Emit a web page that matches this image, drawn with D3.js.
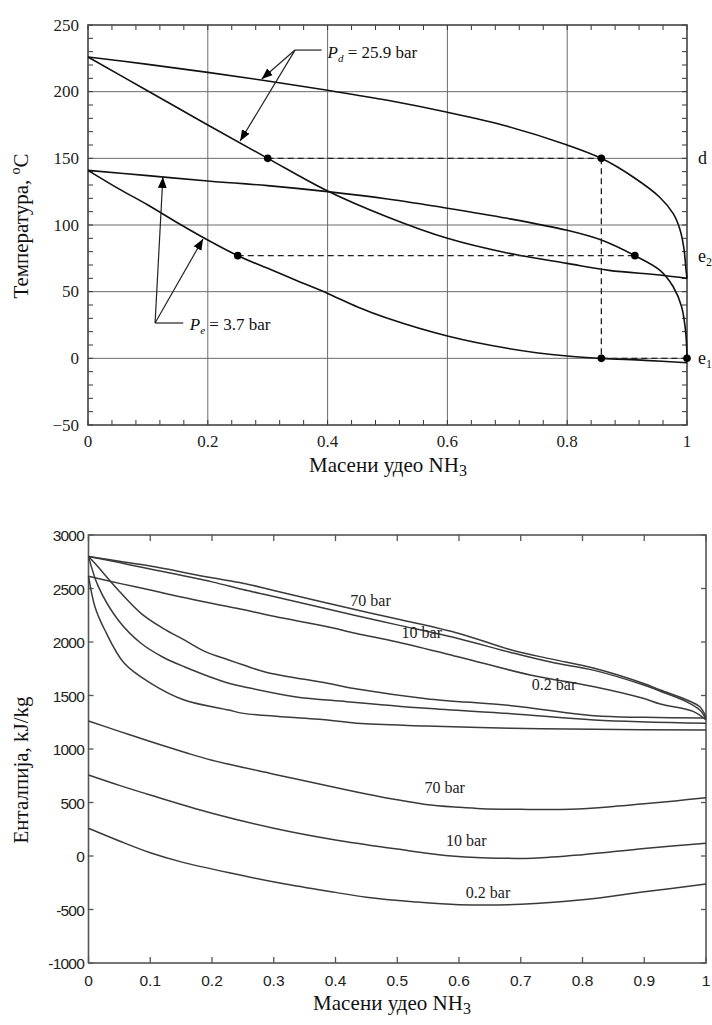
<!DOCTYPE html>
<html><head><meta charset="utf-8">
<script src="https://cdn.jsdelivr.net/npm/d3@7"></script>
<style>
body{margin:0;background:#fff;}
svg{display:block;}
</style></head>
<body>
<svg id="c" width="712" height="1025"></svg>
<script>
const SERIF = "'Liberation Serif', 'Times New Roman', 'DejaVu Serif', serif";
const SANS = "'Liberation Sans', Arial, sans-serif";
// ---------- TOP CHART DATA (x = mass fraction NH3, T in °C) ----------
const topXTicks = [0, 0.2, 0.4, 0.6, 0.8, 1];
const topXTickLabels = ["0", "0.2", "0.4", "0.6", "0.8", "1"];
const topYTicks = [-50, 0, 50, 100, 150, 200, 250];
const topYTickLabels = ["\u221250", "0", "50", "100", "150", "200", "250"];

const pdDew = [[0,226],[0.1,220.5],[0.2,214.5],[0.3,208],[0.4,201],[0.5,193.5],[0.6,184.5],[0.7,174],[0.8,160],[0.857,150],[0.91,136],[0.954,121],[0.977,108.5],[0.988,97],[0.995,82],[0.998,68],[1,60]];
const pdBubble = [[0,226],[0.1,200.5],[0.2,175],[0.3,150],[0.4,125.5],[0.5,106],[0.6,90],[0.7,79],[0.8,71.2],[0.87,66],[0.955,62.5],[1,60]];
const peDew = [[0,141],[0.1,137],[0.2,133],[0.3,129.5],[0.4,125],[0.5,119.5],[0.6,112.6],[0.7,105],[0.8,96],[0.857,88.7],[0.913,77],[0.955,66],[0.977,53.7],[0.991,38.7],[0.998,18.7],[1,0]];
const peBubble = [[0,141],[0.05,127.5],[0.1,115],[0.15,101.5],[0.2,88.7],[0.25,77],[0.3,67.5],[0.35,58],[0.4,48.7],[0.45,38.5],[0.5,30],[0.6,16.7],[0.7,7.5],[0.8,1.7],[0.857,0],[0.93,-1.5],[1,-3.3]];

const statePoints = [[0.3,150],[0.857,150],[0.25,77],[0.913,77],[0.857,0],[1,0]];
const dashedLines = [
  [[0.3,150],[0.857,150]],
  [[0.857,150],[0.857,0]],
  [[0.25,77],[0.913,77]],
  [[0.857,0],[1,0]]
];
const sideLabels = [{t:"d", T:150, sub:""},{t:"e", T:77, sub:"2"},{t:"e", T:0, sub:"1"}];
const pdLabel = {x:0.4, T:225, sub:"d", rest:" = 25.9 bar", vertex:[0.3456,231.2], leaderEnd:[0.39,231.2], tips:[[0.29,209.5],[0.254,163]]};
const peLabel = {x:0.17, T:21, sub:"e", rest:" = 3.7 bar", vertex:[0.112,26.5], leaderEnd:[0.159,26.5], tips:[[0.125,136],[0.192,89.5]]};

// ---------- BOTTOM CHART DATA (x = mass fraction NH3, h in kJ/kg) ----------
const botXTicks = [0,0.1,0.2,0.3,0.4,0.5,0.6,0.7,0.8,0.9,1];
const botXTickLabels = ["0","0.1","0.2","0.3","0.4","0.5","0.6","0.7","0.8","0.9","1"];
const botYTicks = [-1000,-500,0,500,1000,1500,2000,2500,3000];
const botYTickLabels = ["-1000","-500","0","500","1000","1500","2000","2500","3000"];

const vap70 = [[0,2800],[0.05,2755],[0.1,2710],[0.2,2600],[0.25,2550],[0.3,2482],[0.4,2345],[0.5,2215],[0.6,2080],[0.685,1925],[0.75,1840],[0.819,1754],[0.898,1614],[0.926,1551],[0.969,1458],[0.99,1395],[1,1300]];
const vap10 = [[0,2800],[0.05,2742],[0.1,2682],[0.2,2562],[0.25,2490],[0.3,2425],[0.434,2245],[0.5,2160],[0.6,2030],[0.685,1900],[0.75,1810],[0.819,1735],[0.898,1600],[0.926,1540],[0.969,1440],[0.99,1365],[1,1280]];
const vap02 = [[0,2615],[0.05,2548],[0.1,2486],[0.15,2420],[0.24,2315],[0.3,2240],[0.387,2143],[0.434,2080],[0.5,2000],[0.6,1860],[0.717,1690],[0.819,1582],[0.898,1474],[0.926,1420],[0.98,1349],[1,1271]];
const aux1 = [[0,2800],[0.0104,2735],[0.048,2486],[0.085,2268],[0.12,2130],[0.155,2019],[0.189,1910],[0.227,1832],[0.251,1785],[0.286,1720],[0.387,1614],[0.435,1560],[0.547,1470],[0.685,1405],[0.819,1310],[0.9,1296],[1,1290]];
const aux2 = [[0,2800],[0.016,2517],[0.048,2206],[0.085,1988],[0.12,1860],[0.155,1769],[0.227,1614],[0.251,1582],[0.334,1489],[0.4185,1442],[0.547,1380],[0.685,1330],[0.819,1271],[1,1240]];
const aux3 = [[0,2615],[0.0104,2330],[0.0264,2112],[0.058,1801],[0.101,1614],[0.155,1458],[0.227,1364],[0.251,1333],[0.387,1271],[0.435,1240],[0.547,1215],[0.685,1193],[0.819,1184],[1,1178]];
const liq70 = [[0,1262],[0.05,1165],[0.1,1070],[0.158,965],[0.2,895],[0.3,765],[0.4,640],[0.45,580],[0.5,525],[0.546,482],[0.6,455],[0.637,442],[0.7,436],[0.78,437],[0.85,462],[0.9,488],[0.95,515],[1,545]];
const liq10 = [[0,757],[0.05,660],[0.1,570],[0.2,400],[0.3,260],[0.4,150],[0.5,65],[0.578,5],[0.647,-18],[0.72,-20],[0.8,12],[0.9,70],[1,120]];
const liq02 = [[0,259],[0.05,140],[0.1,30],[0.15,-55],[0.232,-162],[0.312,-255],[0.4,-340],[0.45,-385],[0.525,-427],[0.6,-455],[0.7,-452],[0.8,-410],[0.9,-335],[1,-262]];

const botSeries = [vap70, vap10, vap02, aux1, aux2, aux3, liq70, liq10, liq02];
const botLabels = [
  {t:"70 bar", x:0.424, h:2336},
  {t:"10 bar", x:0.507, h:2037},
  {t:"0.2 bar", x:0.718, h:1551},
  {t:"70 bar", x:0.544, h:589},
  {t:"10 bar", x:0.579, h:93},
  {t:"0.2 bar", x:0.611, h:-393}
];

const svg = d3.select("#c");

// ================= TOP CHART =================
const tx = d3.scaleLinear().domain([0,1]).range([88,687]);
const ty = d3.scaleLinear().domain([-50,250]).range([425,25]);
const gT = svg.append("g");

gT.selectAll(".gx").data(topXTicks.slice(1,-1)).enter().append("line")
  .attr("x1",d=>tx(d)).attr("x2",d=>tx(d)).attr("y1",ty(250)).attr("y2",ty(-50))
  .attr("stroke","#6b6b6b").attr("stroke-width",1);
gT.selectAll(".gy").data(topYTicks.slice(1,-1)).enter().append("line")
  .attr("y1",d=>ty(d)).attr("y2",d=>ty(d)).attr("x1",tx(0)).attr("x2",tx(1))
  .attr("stroke","#6b6b6b").attr("stroke-width",1);

const tMinorX = d3.range(0,1.0001,0.04);
const tMinorY = d3.range(-50,250.1,10);
tMinorX.forEach(v=>{
  gT.append("line").attr("x1",tx(v)).attr("x2",tx(v)).attr("y1",ty(-50)).attr("y2",ty(-50)-5).attr("stroke","#333").attr("stroke-width",1);
  gT.append("line").attr("x1",tx(v)).attr("x2",tx(v)).attr("y1",ty(250)).attr("y2",ty(250)+5).attr("stroke","#333").attr("stroke-width",1);
});
tMinorY.forEach(v=>{
  gT.append("line").attr("y1",ty(v)).attr("y2",ty(v)).attr("x1",tx(0)).attr("x2",tx(0)+5).attr("stroke","#333").attr("stroke-width",1);
  gT.append("line").attr("y1",ty(v)).attr("y2",ty(v)).attr("x1",tx(1)).attr("x2",tx(1)-5).attr("stroke","#333").attr("stroke-width",1);
});

gT.append("rect").attr("x",tx(0)).attr("y",ty(250)).attr("width",tx(1)-tx(0)).attr("height",ty(-50)-ty(250))
  .attr("fill","none").attr("stroke","#444").attr("stroke-width",1.6);

gT.selectAll(".xl").data(topXTicks).enter().append("text").attr("font-family",SERIF)
  .attr("x",d=>tx(d)).attr("y",447).attr("text-anchor","middle").attr("font-size",17).attr("fill","#222")
  .text((d,i)=>topXTickLabels[i]);
gT.selectAll(".yl").data(topYTicks).enter().append("text").attr("font-family",SERIF)
  .attr("x",79).attr("y",d=>ty(d)+5.5).attr("text-anchor","end").attr("font-size",17).attr("fill","#222")
  .text((d,i)=>topYTickLabels[i]);

const yt = gT.append("text").attr("font-family",SERIF).attr("font-size",21).attr("fill","#111")
  .attr("text-anchor","middle").attr("transform","translate(28,226) rotate(-90)");
yt.append("tspan").text("Температура, ");
yt.append("tspan").attr("font-size",14).attr("dy",-8).text("o");
yt.append("tspan").attr("dy",8).text("C");
const xt = gT.append("text").attr("font-family",SERIF).attr("font-size",21).attr("fill","#111")
  .attr("text-anchor","middle").attr("x",388).attr("y",472);
xt.append("tspan").text("Масени удео NH");
xt.append("tspan").attr("font-size",16).attr("dy",4).text("3");

const tLine = d3.line().x(d=>tx(d[0])).y(d=>ty(d[1])).curve(d3.curveCatmullRom.alpha(0.5));
[pdDew, pdBubble, peDew, peBubble].forEach(s=>{
  gT.append("path").attr("d",tLine(s)).attr("fill","none").attr("stroke","#111").attr("stroke-width",1.6);
});

dashedLines.forEach(s=>{
  gT.append("path").attr("d",d3.line().x(d=>tx(d[0])).y(d=>ty(d[1]))(s))
    .attr("fill","none").attr("stroke","#222").attr("stroke-width",1.3).attr("stroke-dasharray","6,4");
});

gT.selectAll(".pt").data(statePoints).enter().append("circle")
  .attr("cx",d=>tx(d[0])).attr("cy",d=>ty(d[1])).attr("r",3.8).attr("fill","#000");

sideLabels.forEach(l=>{
  const t = gT.append("text").attr("font-family",SERIF).attr("font-size",18).attr("fill","#111")
    .attr("x",tx(1)+11).attr("y",ty(l.T)+6);
  t.append("tspan").text(l.t);
  if(l.sub) t.append("tspan").attr("font-size",12).attr("dy",4).text(l.sub);
});

const defs = svg.append("defs");
defs.append("marker").attr("id","arr").attr("viewBox","0 0 10 10").attr("refX",10).attr("refY",5)
  .attr("markerWidth",11).attr("markerHeight",11).attr("markerUnits","userSpaceOnUse").attr("orient","auto")
  .append("path").attr("d","M0,1 L10,5 L0,9 Z").attr("fill","#000");
[pdLabel, peLabel].forEach(a=>{
  gT.append("line").attr("x1",tx(a.vertex[0])).attr("y1",ty(a.vertex[1])).attr("x2",tx(a.leaderEnd[0])).attr("y2",ty(a.leaderEnd[1]))
    .attr("stroke","#222").attr("stroke-width",1.2);
  a.tips.forEach(tp=>{
    gT.append("line").attr("x1",tx(a.vertex[0])).attr("y1",ty(a.vertex[1])).attr("x2",tx(tp[0])).attr("y2",ty(tp[1]))
      .attr("stroke","#222").attr("stroke-width",1.2).attr("marker-end","url(#arr)");
  });
  const t = gT.append("text").attr("font-family",SERIF).attr("font-size",17).attr("fill","#111")
    .attr("x",tx(a.x)).attr("y",ty(a.T));
  t.append("tspan").attr("font-style","italic").text("P");
  t.append("tspan").attr("font-style","italic").attr("font-size",11).attr("dy",4).text(a.sub);
  t.append("tspan").attr("dy",-4).text(a.rest);
});

// ================= BOTTOM CHART =================
const bx = d3.scaleLinear().domain([0,1]).range([88.5,706]);
const by = d3.scaleLinear().domain([-1000,3000]).range([963,535]);
const gB = svg.append("g");

gB.append("rect").attr("x",bx(0)).attr("y",by(3000)).attr("width",bx(1)-bx(0)).attr("height",by(-1000)-by(3000))
  .attr("fill","none").attr("stroke","#555").attr("stroke-width",1.6);
botXTicks.forEach(v=>{
  gB.append("line").attr("x1",bx(v)).attr("x2",bx(v)).attr("y1",by(-1000)).attr("y2",by(-1000)-6).attr("stroke","#555").attr("stroke-width",1.3);
  gB.append("line").attr("x1",bx(v)).attr("x2",bx(v)).attr("y1",by(3000)).attr("y2",by(3000)+6).attr("stroke","#555").attr("stroke-width",1.3);
});
botYTicks.forEach(v=>{
  gB.append("line").attr("y1",by(v)).attr("y2",by(v)).attr("x1",bx(0)).attr("x2",bx(0)+5).attr("stroke","#555").attr("stroke-width",1.3);
  gB.append("line").attr("y1",by(v)).attr("y2",by(v)).attr("x1",bx(1)).attr("x2",bx(1)-5).attr("stroke","#555").attr("stroke-width",1.3);
});
gB.selectAll(".bxl").data(botXTicks).enter().append("text").attr("font-family",SANS)
  .attr("x",d=>bx(d)).attr("y",986).attr("text-anchor","middle").attr("font-size",15.5).attr("fill","#222")
  .text((d,i)=>botXTickLabels[i]);
gB.selectAll(".byl").data(botYTicks).enter().append("text").attr("font-family",SANS)
  .attr("x",84).attr("y",d=>by(d)+6).attr("text-anchor","end").attr("font-size",15.5).attr("fill","#222")
  .attr("letter-spacing",-0.8)
  .text((d,i)=>botYTickLabels[i]);

gB.append("text").attr("font-family",SERIF).attr("font-size",21).attr("fill","#111")
  .attr("text-anchor","middle").attr("transform","translate(28,770) rotate(-90)").text("Енталпија, kJ/kg");
const bxt = gB.append("text").attr("font-family",SERIF).attr("font-size",21).attr("fill","#111")
  .attr("text-anchor","middle").attr("x",392).attr("y",1010);
bxt.append("tspan").text("Масени удео NH");
bxt.append("tspan").attr("font-size",16).attr("dy",4).text("3");

const bLine = d3.line().x(d=>bx(d[0])).y(d=>by(d[1])).curve(d3.curveCatmullRom.alpha(0.5));
botSeries.forEach(s=>{
  gB.append("path").attr("d",bLine(s)).attr("fill","none").attr("stroke","#3a3a3a").attr("stroke-width",1.5);
});
botLabels.forEach(l=>{
  gB.append("text").attr("font-family",SERIF).attr("font-size",16).attr("fill","#222")
    .attr("x",bx(l.x)).attr("y",by(l.h)).text(l.t);
});
</script>
</body></html>
